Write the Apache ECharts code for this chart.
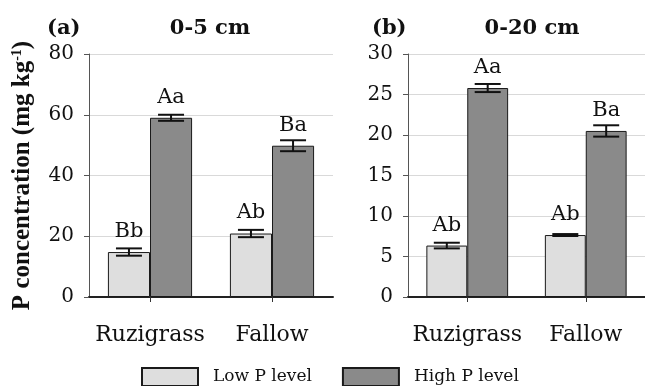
<!DOCTYPE html>
<html>
<head>
<meta charset="utf-8">
<script src="https://cdn.jsdelivr.net/npm/echarts@6/dist/echarts.min.js"></script>
<style>html,body{margin:0;padding:0;background:#fff}#c{width:645px;height:386px}</style>
</head>
<body>
<div id="c"></div>
<script>
const categories = ['Ruzigrass', 'Fallow'];
const seriesNames = ['Low P level', 'High P level'];
// Panel (a) 0-5 cm
const aLow = [14.8, 20.9];
const aHigh = [59.0, 49.8];
const aLowErr = [1.2, 1.2];
const aHighErr = [1.0, 1.8];
const aLowLabels = ['Bb', 'Ab'];
const aHighLabels = ['Aa', 'Ba'];
// Panel (b) 0-20 cm
const bLow = [6.35, 7.65];
const bHigh = [25.8, 20.5];
const bLowErr = [0.35, 0.12];
const bHighErr = [0.5, 0.7];
const bLowLabels = ['Ab', 'Ab'];
const bHighLabels = ['Aa', 'Ba'];
const aTicks = {min: 0, max: 80, interval: 20};
const bTicks = {min: 0, max: 30, interval: 5};

const FONT = '"DejaVu Serif", "Liberation Serif", serif';
const FONT_T = '"Liberation Serif", "Times New Roman", serif';
const LOW_COLOR = '#dedede';
const HIGH_COLOR = '#8a8a8a';
const CAT_GAP = 0.31;

function barSeries(name, data, labels, color, idx) {
  return {
    name: name, type: 'bar', xAxisIndex: idx, yAxisIndex: idx,
    data: data, barGap: '0%', barCategoryGap: (CAT_GAP * 100) + '%',
    itemStyle: {color: color, borderColor: '#1a1a1a', borderWidth: 1},
    label: {
      show: true, position: 'top', distance: 10,
      formatter: p => labels[p.dataIndex],
      fontFamily: FONT, fontSize: 21, color: '#111'
    },
    emphasis: {disabled: true}
  };
}
function errSeries(vals, errs, side, idx) {
  const data = vals.map((v, i) => [i, v, errs[i]]);
  return {
    type: 'custom', xAxisIndex: idx, yAxisIndex: idx, z: 10, silent: true,
    data: data,
    renderItem: function (params, api) {
      const c = api.value(0), v = api.value(1), e = api.value(2);
      const catW = api.size([1, 0])[0];
      const bw = catW * (1 - CAT_GAP) / 2;
      const cx = api.coord([c, v])[0] + side * bw / 2;
      const yt = api.coord([c, v + e])[1];
      const yb = api.coord([c, v - e])[1];
      const hw = 13;
      const st = {stroke: '#111', lineWidth: 2};
      return {type: 'group', children: [
        {type: 'line', shape: {x1: cx, y1: yt, x2: cx, y2: yb}, style: st},
        {type: 'line', shape: {x1: cx - hw, y1: yt, x2: cx + hw, y2: yt}, style: st},
        {type: 'line', shape: {x1: cx - hw, y1: yb, x2: cx + hw, y2: yb}, style: st}
      ]};
    }
  };
}
function xAx(idx) {
  return {
    type: 'category', gridIndex: idx, data: categories,
    axisLine: {lineStyle: {color: '#222', width: 2}},
    axisTick: {show: true, alignWithLabel: true, length: 5, lineStyle: {color: '#333'}},
    axisLabel: {fontFamily: FONT, fontSize: 22, color: '#111', margin: 27, interval: 0}
  };
}
function yAx(idx, t, name) {
  const o = {
    type: 'value', gridIndex: idx, min: t.min, max: t.max, interval: t.interval,
    axisLine: {show: true, lineStyle: {color: '#555', width: 1}},
    axisTick: {show: true, length: 5, lineStyle: {color: '#555'}},
    axisLabel: {fontFamily: FONT, fontSize: 20, color: '#111', margin: 15},
    splitLine: {lineStyle: {color: '#d9d9d9', width: 1}}
  };
  if (name) {
    o.name = name;
    o.nameLocation = 'middle';
    o.nameRotate = 90;
    o.nameGap = 53;
    o.nameTextStyle = {
      rich: {
        a: {fontFamily: FONT_T, fontSize: 25, fontWeight: 'bold', color: '#111'},
        s: {fontFamily: FONT_T, fontSize: 14, fontWeight: 'bold', color: '#111', verticalAlign: 'top', padding: [0, 0, 12, 0]}
      }
    };
  }
  return o;
}
const titleStyle = {fontFamily: FONT, fontSize: 21, fontWeight: 'bold', color: '#111'};
const chart = echarts.init(document.getElementById('c'), null, {renderer: 'canvas'});
chart.setOption({
  animation: false,
  backgroundColor: '#fff',
  title: [
    {text: '(a)', left: 42, top: 13, textStyle: titleStyle},
    {text: '0-5 cm', left: 205, top: 13, textAlign: 'center', textStyle: titleStyle},
    {text: '(b)', left: 367, top: 13, textStyle: titleStyle},
    {text: '0-20 cm', left: 527, top: 13, textAlign: 'center', textStyle: titleStyle}
  ],
  legend: {
    data: seriesNames, left: 136, top: 362, itemWidth: 56, itemHeight: 18, itemGap: 30,
    icon: 'rect',
    textStyle: {fontFamily: FONT, fontSize: 17, lineHeight: 18, color: '#111', padding: [0, 0, 0, 10]},
    selectedMode: false
  },
  grid: [
    {left: 89, right: 312, top: 54, bottom: 89},
    {left: 408, right: -10, top: 54, bottom: 89}
  ],
  xAxis: [xAx(0), xAx(1)],
  yAxis: [yAx(0, aTicks, '{a|P concentration (mg kg}{s|-1}{a|)}'), yAx(1, bTicks, null)],
  series: [
    barSeries(seriesNames[0], aLow, aLowLabels, LOW_COLOR, 0),
    barSeries(seriesNames[1], aHigh, aHighLabels, HIGH_COLOR, 0),
    barSeries(seriesNames[0], bLow, bLowLabels, LOW_COLOR, 1),
    barSeries(seriesNames[1], bHigh, bHighLabels, HIGH_COLOR, 1),
    errSeries(aLow, aLowErr, -1, 0),
    errSeries(aHigh, aHighErr, 1, 0),
    errSeries(bLow, bLowErr, -1, 1),
    errSeries(bHigh, bHighErr, 1, 1)
  ]
});
</script>
</body>
</html>
